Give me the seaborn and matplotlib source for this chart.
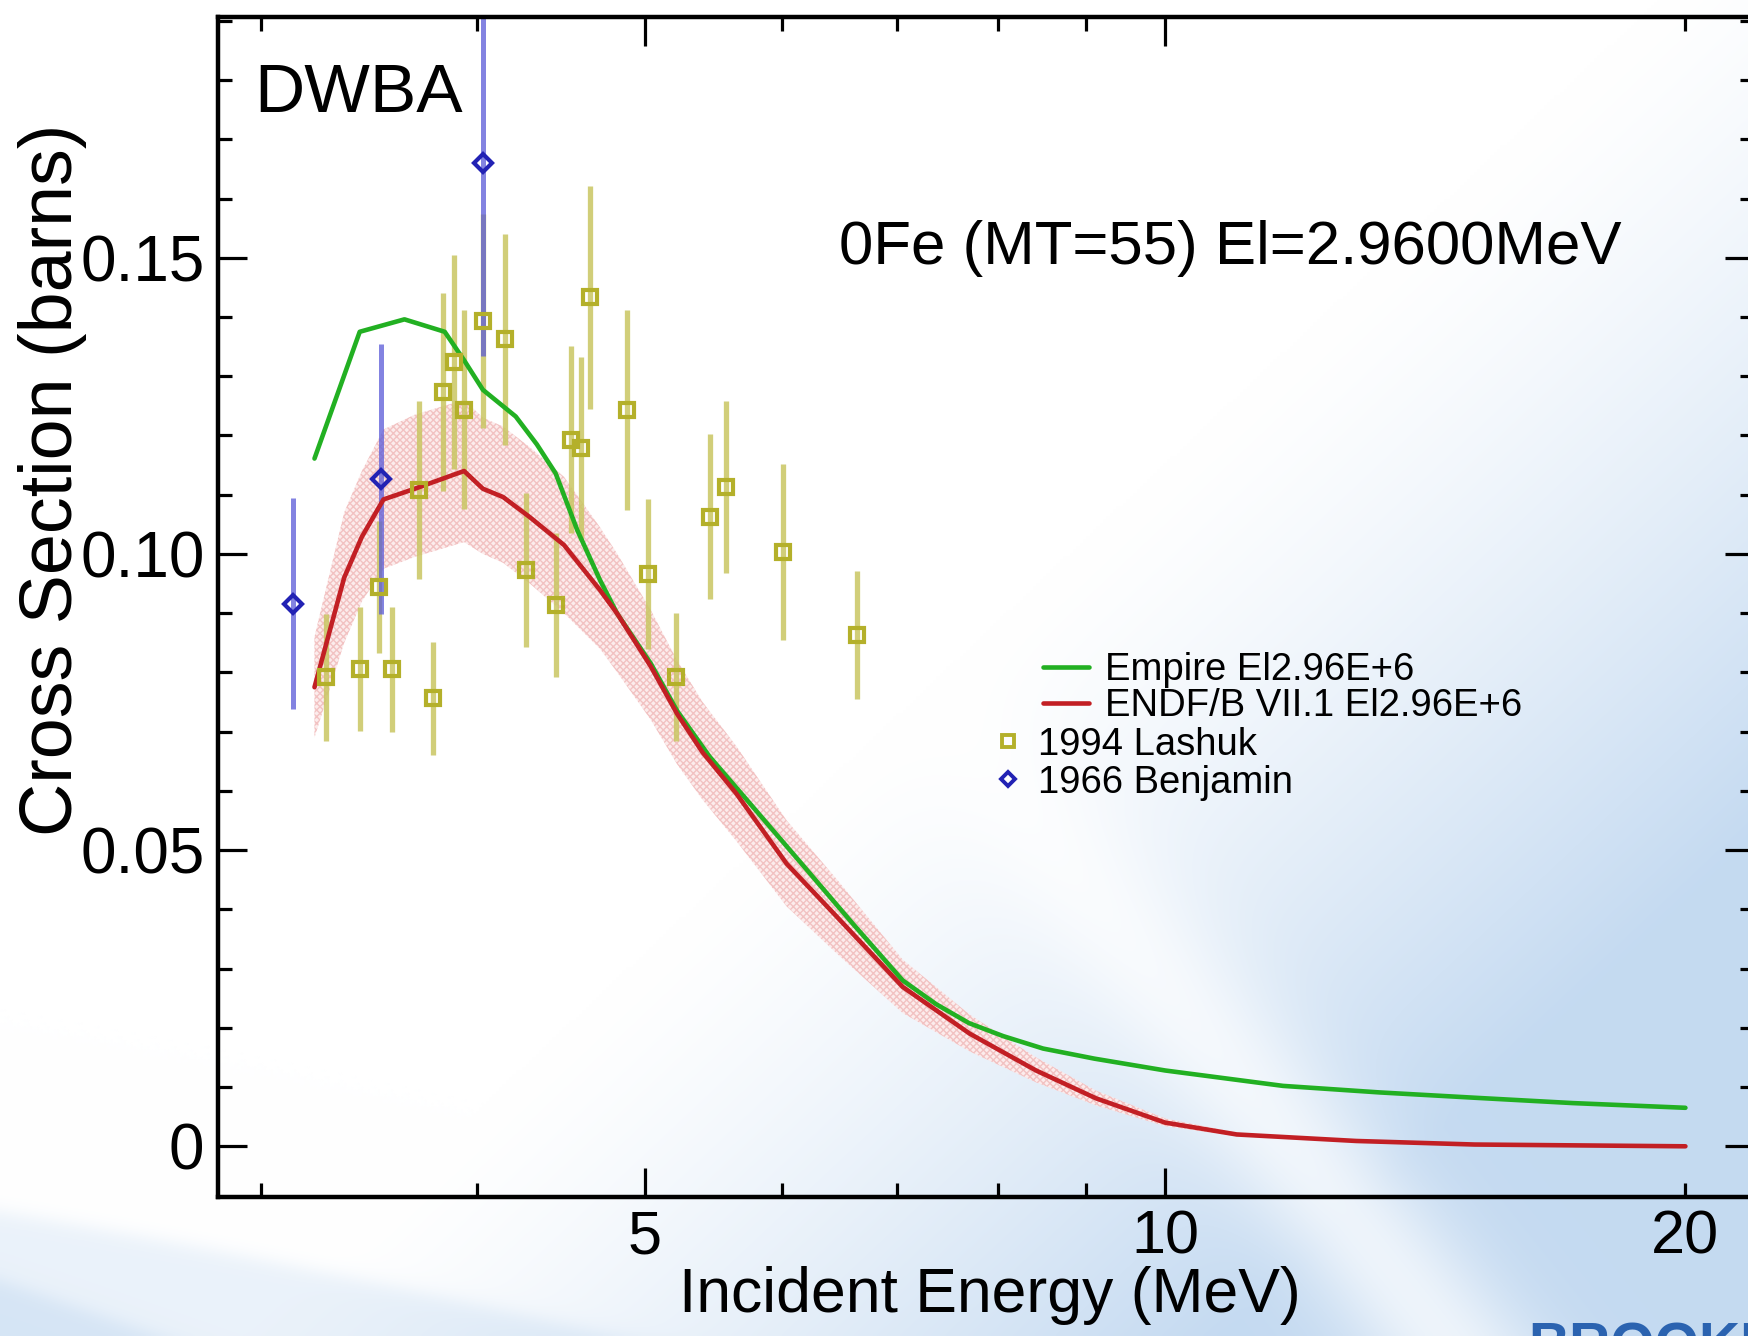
import numpy as np
import matplotlib
matplotlib.use("Agg")
import matplotlib.pyplot as plt
import matplotlib.ticker as mticker
from matplotlib.lines import Line2D
import seaborn as sns

# ---------------- data (incident energy in MeV, cross section in barns) ----------------
empire_energy = [3.22, 3.42, 3.63, 3.83, 3.93, 4.03, 4.21, 4.33, 4.44, 4.57, 4.71, 4.82,
                 5.04, 5.22, 5.45, 5.70, 6.17, 6.60, 7.05, 7.37, 7.70, 8.06, 8.50, 9.10,
                 10.0, 11.7, 13.3, 15.1, 17.2, 20.0]
empire_xs = [0.1161, 0.1375, 0.1396, 0.1375, 0.1327, 0.1277, 0.1232, 0.1185, 0.1136, 0.1040,
             0.0956, 0.0899, 0.0815, 0.0735, 0.0658, 0.0592, 0.0475, 0.0375, 0.0280, 0.0240,
             0.0208, 0.0186, 0.0165, 0.0148, 0.0128, 0.0102, 0.0091, 0.0082, 0.0073, 0.0065]

endf_energy = [3.22, 3.35, 3.43, 3.53, 3.68, 3.93, 4.03, 4.14, 4.29, 4.49, 4.71, 4.82,
               5.04, 5.22, 5.40, 5.65, 6.04, 6.46, 7.05, 7.71, 8.42, 9.12, 10.0, 11.0,
               12.9, 15.1, 20.0]
endf_xs = [0.0775, 0.0960, 0.1029, 0.1092, 0.1110, 0.1140, 0.1110, 0.1096, 0.1062, 0.1015,
           0.0939, 0.0899, 0.0810, 0.0730, 0.0665, 0.0595, 0.0477, 0.0387, 0.0269, 0.0190,
           0.0128, 0.0081, 0.0040, 0.0020, 0.0009, 0.0003, 0.0000]
endf_lo = [0.0690, 0.0850, 0.0920, 0.0975, 0.0995, 0.1020, 0.1000, 0.0985, 0.0950, 0.0900,
           0.0840, 0.0800, 0.0720, 0.0645, 0.0585, 0.0515, 0.0405, 0.0325, 0.0225, 0.0160,
           0.0108, 0.0069, 0.0034, 0.0017, 0.0008, 0.0002, 0.0000]
endf_hi = [0.0860, 0.1070, 0.1140, 0.1210, 0.1235, 0.1260, 0.1230, 0.1215, 0.1180, 0.1130,
           0.1045, 0.1000, 0.0905, 0.0820, 0.0750, 0.0675, 0.0550, 0.0450, 0.0315, 0.0222,
           0.0150, 0.0094, 0.0047, 0.0023, 0.0010, 0.0004, 0.0000]

lashuk_energy = [3.27, 3.42, 3.51, 3.57, 3.70, 3.77, 3.82, 3.88, 3.93, 4.03, 4.15, 4.27,
                 4.44, 4.53, 4.59, 4.65, 4.88, 5.02, 5.21, 5.45, 5.57, 6.01, 6.63]
lashuk_xs = [0.0792, 0.0806, 0.0944, 0.0805, 0.1108, 0.0756, 0.1274, 0.1324, 0.1243, 0.1393,
             0.1362, 0.0973, 0.0914, 0.1193, 0.1178, 0.1433, 0.1243, 0.0966, 0.0792, 0.1063,
             0.1113, 0.1003, 0.0863]
lashuk_err = [0.0107, 0.0105, 0.0112, 0.0106, 0.0150, 0.0096, 0.0167, 0.0181, 0.0168, 0.0180,
              0.0178, 0.0130, 0.0122, 0.0158, 0.0154, 0.0188, 0.0169, 0.0127, 0.0108, 0.0139,
              0.0146, 0.0148, 0.0108]

benjamin_energy = [3.13, 3.52, 4.03]
benjamin_xs = [0.0916, 0.1126, 0.1660]
benjamin_err = [0.0178, 0.0228, 0.0326]

x_major = [5, 10]
x_major_labels = ["5", "10"]
x_minor = [3, 4, 6, 7, 8, 9, 20]
x_minor_labels = ["", "", "", "", "", "", "20"]
y_major = [0.0, 0.05, 0.10, 0.15]
y_major_labels = ["0", "0.05", "0.10", "0.15"]

labels = {
    "empire": "Empire El2.96E+6",
    "endf": "ENDF/B VII.1 El2.96E+6",
    "lashuk": "1994 Lashuk",
    "benjamin": "1966 Benjamin",
}

# ---------------- colours ----------------
c_empire = "#22b022"
c_endf = "#c21f24"
c_band_face = "#fcecec"
c_band_hatch = "#f2c2c2"
c_lashuk = "#b4b02a"
c_lashuk_bar = "#c9c662"
c_benj = "#2222b4"
c_benj_bar = "#5a5ad8"

sns.set_theme(style="ticks")
plt.rcParams["font.family"] = ["Liberation Sans", "DejaVu Sans"]
plt.rcParams["hatch.linewidth"] = 1.0
plt.rcParams["text.color"] = "black"
plt.rcParams["axes.labelcolor"] = "black"

W, H = 1749, 1336
fig = plt.figure(figsize=(W / 100, H / 100), dpi=100)

# ---------------- slide background ----------------
bh, bw = 400, 524
yy, xx = np.mgrid[0:bh, 0:bw]
u = xx / (bw - 1)
v = yy / (bh - 1)
tint = np.clip((0.8 * u + 0.65 * v - 0.76) / 0.45, 0, 1) ** 1.3
d = ((u - 0.626) * 0.224 - (v - 0.674) * 0.137) / 0.2626
streak = np.exp(-(d / 0.045) ** 2)
tint = tint * (1 - 0.7 * streak)
X = u * 1568
Y = v * 1198
edge1 = 1088 + 0.17 * X + 0.00006 * X ** 2
edge2 = 1150 + 0.35 * X
b1 = 1 / (1 + np.exp(-(Y - edge1) / 5))
b2 = 1 / (1 + np.exp(-(Y - edge2) / 5))
tint = np.clip(tint + 0.35 * b1 + 0.35 * b2, 0, 1)
blue = np.array([0.77, 0.855, 0.945])
white = np.array([1.0, 1.0, 1.0])
img = white[None, None, :] * (1 - tint[..., None]) + blue[None, None, :] * tint[..., None]

bg = fig.add_axes([0, 0, 1, 1], zorder=-10)
bg.imshow(img, extent=[0, 1, 0, 1], aspect="auto", interpolation="bilinear", origin="upper")
bg.set_axis_off()

fig.text(0.8737, -0.0207, "BROOKHAVEN", color="#2b63b0", fontsize=41,
         fontweight="bold", ha="left", va="baseline")

# ---------------- main axes ----------------
left, bottom, right, top = 0.1244, 0.1043, 1.0026, 0.9871
ax = fig.add_axes([left, bottom, right - left, top - bottom])
ax.set_facecolor("none")

# uncertainty band of the evaluation
ax.fill_between(endf_energy, endf_lo, endf_hi, facecolor=c_band_face,
                edgecolor=c_band_hatch, hatch="xxxxx", linewidth=0, zorder=1)

# experimental error bars
ax.errorbar(lashuk_energy, lashuk_xs, yerr=lashuk_err, fmt="none",
            ecolor=c_lashuk_bar, elinewidth=3.8, capsize=0, alpha=0.85, zorder=2)
ax.errorbar(benjamin_energy, benjamin_xs, yerr=benjamin_err, fmt="none",
            ecolor=c_benj_bar, elinewidth=3.6, capsize=0, alpha=0.75, zorder=2.5)

# evaluated curves
sns.lineplot(x=empire_energy, y=empire_xs, ax=ax, color=c_empire, linewidth=3.3,
             estimator=None, sort=False, legend=False, zorder=3)
sns.lineplot(x=endf_energy, y=endf_xs, ax=ax, color=c_endf, linewidth=3.3,
             estimator=None, sort=False, legend=False, zorder=3)

# experimental points
ax.plot(lashuk_energy, lashuk_xs, ls="none", marker="s", ms=9.5, mfc="none",
        mec=c_lashuk, mew=3.0, zorder=4)
ax.plot(benjamin_energy, benjamin_xs, ls="none", marker="D", ms=9.0, mfc="none",
        mec=c_benj, mew=3.0, zorder=4)

# ---------------- axes styling ----------------
ax.set_xscale("log")
ax.set_xlim(2.83, 21.9)
ax.set_ylim(-0.0085, 0.1906)

ax.xaxis.set_major_locator(mticker.FixedLocator(x_major))
ax.xaxis.set_major_formatter(mticker.FixedFormatter(x_major_labels))
ax.xaxis.set_minor_locator(mticker.FixedLocator(x_minor))
ax.xaxis.set_minor_formatter(mticker.FixedFormatter(x_minor_labels))
ax.yaxis.set_major_locator(mticker.FixedLocator(y_major))
ax.yaxis.set_major_formatter(mticker.FixedFormatter(y_major_labels))
ax.yaxis.set_minor_locator(mticker.MultipleLocator(0.01))

for s in ax.spines.values():
    s.set_linewidth(3.2)
    s.set_color("black")

ax.tick_params(which="both", direction="in", top=True, right=True, color="black",
               labelcolor="black", width=2.3)
ax.tick_params(which="major", length=21)
ax.tick_params(which="minor", length=10)
ax.tick_params(axis="x", which="both", labelsize=44, pad=9)
ax.tick_params(axis="y", which="both", labelsize=46, pad=9.5)

ax.set_xlabel("Incident Energy (MeV)", fontsize=45)
ax.xaxis.set_label_coords(0.5025, -0.059)
ax.set_ylabel("Cross Section (barns)", fontsize=53)
ax.yaxis.set_label_coords(-0.085, 0.608)

ax.text(0.024, 0.9197, "DWBA", transform=ax.transAxes, fontsize=50,
        ha="left", va="baseline")
ax.text(0.4045, 0.791, "0Fe (MT=55) El=2.9600MeV", transform=ax.transAxes,
        fontsize=44.5, ha="left", va="baseline")

# ---------------- legends ----------------
line_handles = [Line2D([], [], color=c_empire, lw=3.3),
                Line2D([], [], color=c_endf, lw=3.3)]
leg1 = ax.legend(line_handles, [labels["empire"], labels["endf"]],
                 loc="center left", bbox_to_anchor=(0.5374, 0.431), frameon=False,
                 fontsize=27.5, handlelength=1.2, handletextpad=0.42,
                 labelspacing=0.0, borderpad=0, borderaxespad=0)
ax.add_artist(leg1)
marker_handles = [Line2D([], [], ls="none", marker="s", ms=8.0, mfc="none",
                         mec=c_lashuk, mew=2.8),
                  Line2D([], [], ls="none", marker="D", ms=7.5, mfc="none",
                         mec=c_benj, mew=2.8)]
ax.legend(marker_handles, [labels["lashuk"], labels["benjamin"]],
          loc="center left", bbox_to_anchor=(0.5025, 0.367), frameon=False,
          fontsize=27.5, handlelength=0.95, handletextpad=0.32,
          labelspacing=0.05, borderpad=0, borderaxespad=0)

fig.savefig("out.png", dpi=100)
